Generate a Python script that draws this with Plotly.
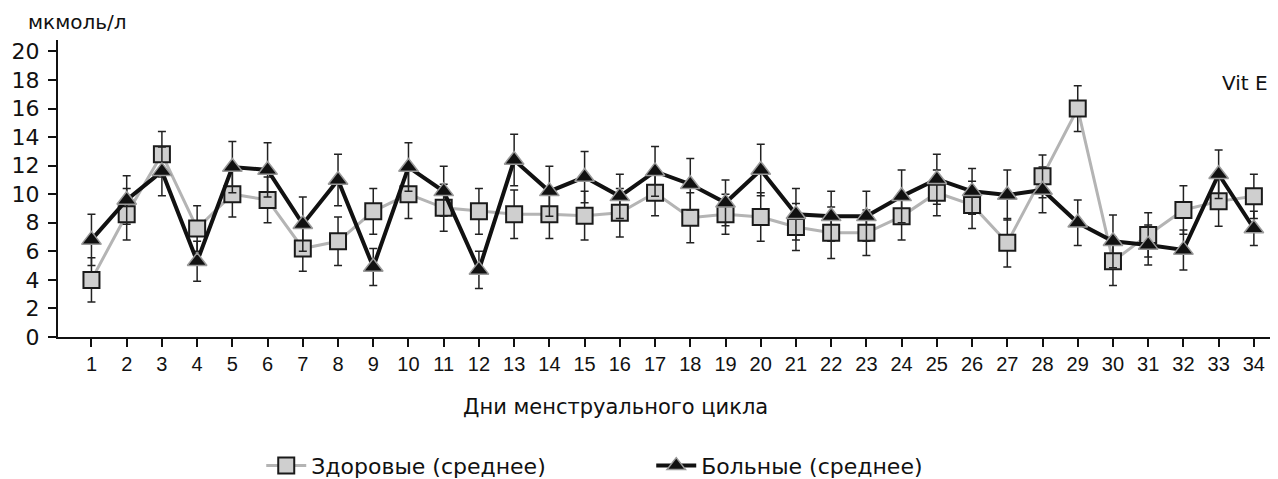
import plotly.graph_objects as go

days = list(range(1, 35))
day_labels = [str(d) for d in days]

healthy = [4.0, 8.6, 12.8, 7.6, 10.0, 9.6, 6.2, 6.7, 8.8, 10.0,
           9.05, 8.8, 8.6, 8.6, 8.5, 8.7, 10.1, 8.35, 8.6, 8.4,
           7.7, 7.3, 7.3, 8.45, 10.1, 9.25, 6.6, 11.25, 16.0, 5.3,
           7.15, 8.9, 9.5, 9.85]
healthy_sd = [1.55, 1.8, 1.6, 1.6, 1.6, 1.6, 1.6, 1.7, 1.6, 1.7,
              1.65, 1.6, 1.7, 1.7, 1.7, 1.7, 1.6, 1.75, 1.4, 1.7,
              1.65, 1.8, 1.6, 1.65, 1.6, 1.65, 1.7, 1.5, 1.6, 1.7,
              1.55, 1.7, 1.75, 1.55]

patients = [6.8, 9.6, 11.6, 5.3, 11.9, 11.7, 7.9, 11.0, 4.9, 11.9,
            10.2, 4.7, 12.4, 10.2, 11.2, 9.85, 11.6, 10.7, 9.4, 11.7,
            8.6, 8.45, 8.45, 9.85, 11.05, 10.2, 9.95, 10.3, 8.0, 6.7,
            6.45, 6.1, 11.4, 7.6]
patients_sd = [1.8, 1.7, 1.7, 1.4, 1.8, 1.9, 1.9, 1.8, 1.3, 1.7,
               1.75, 1.3, 1.8, 1.75, 1.8, 1.55, 1.75, 1.8, 1.6, 1.8,
               1.8, 1.75, 1.75, 1.85, 1.75, 1.6, 1.75, 1.6, 1.6, 1.85,
               1.4, 1.4, 1.7, 1.2]

y_ticks = list(range(0, 21, 2))

ARIAL = "Liberation Sans, Arial, sans-serif"
WIDE = "DejaVu Sans, Liberation Sans, sans-serif"

fig = go.Figure()

fig.add_trace(go.Scatter(
    x=days, y=healthy, name="Здоровые (среднее)",
    mode="lines+markers",
    line=dict(color="#b4b4b4", width=3),
    marker=dict(symbol="square", size=16, color="#cfcfcf",
                line=dict(color="#1a1a1a", width=2)),
    error_y=dict(type="data", array=healthy_sd, visible=True,
                 color="#222222", thickness=1.5, width=4),
))

fig.add_trace(go.Scatter(
    x=days, y=patients, name="Больные (среднее)",
    mode="lines+markers",
    line=dict(color="#111111", width=4),
    marker=dict(symbol="triangle-up", size=17, color="#111111",
                line=dict(color="#9a9a9a", width=1.5)),
    error_y=dict(type="data", array=patients_sd, visible=True,
                 color="#222222", thickness=1.5, width=4),
))

# the page body has an 8px margin, so the figure is a little smaller
fig.update_layout(
    width=1270, height=471,
    margin=dict(l=50, r=3, t=32, b=142),
    paper_bgcolor="white", plot_bgcolor="white",
    font=dict(family=ARIAL, color="#111111"),
    showlegend=True,
    legend=dict(orientation="h", x=0.167, xanchor="left",
                xref="paper", yref="container",
                y=0.028, yanchor="middle",
                font=dict(size=22, family=WIDE),
                itemwidth=40, entrywidth=335, entrywidthmode="pixels"),
    xaxis=dict(range=[0.05, 34.6], tickmode="array", tickvals=days,
               ticktext=day_labels, ticks="outside", ticklen=8,
               tickwidth=1.5, tickcolor="#111111",
               showline=True, linecolor="#111111", linewidth=2,
               showgrid=False, zeroline=False, automargin=False,
               tickfont=dict(size=20, family=ARIAL)),
    yaxis=dict(range=[0, 20.8], tickmode="array", tickvals=y_ticks,
               ticks="outside", ticklen=8, tickwidth=1.5,
               tickcolor="#111111", ticklabelstandoff=4,
               showline=True, linecolor="#111111", linewidth=2,
               showgrid=False, zeroline=False, automargin=False,
               tickfont=dict(size=22, family=WIDE)),
    annotations=[
        dict(text="мкмоль/л", xref="paper", yref="paper",
             x=-0.026, y=1.062, xanchor="left", yanchor="middle",
             showarrow=False, font=dict(size=20, family=WIDE)),
        dict(text="Vit E", xref="paper", yref="paper",
             x=0.955, y=0.855, xanchor="left", yanchor="middle",
             showarrow=False, font=dict(size=20, family=WIDE)),
        dict(text="Дни менструального цикла", xref="paper", yref="paper",
             x=0.4585, y=-0.236, xanchor="center", yanchor="middle",
             showarrow=False, font=dict(size=21, family=WIDE)),
    ],
)

fig.write_html("out.html")
